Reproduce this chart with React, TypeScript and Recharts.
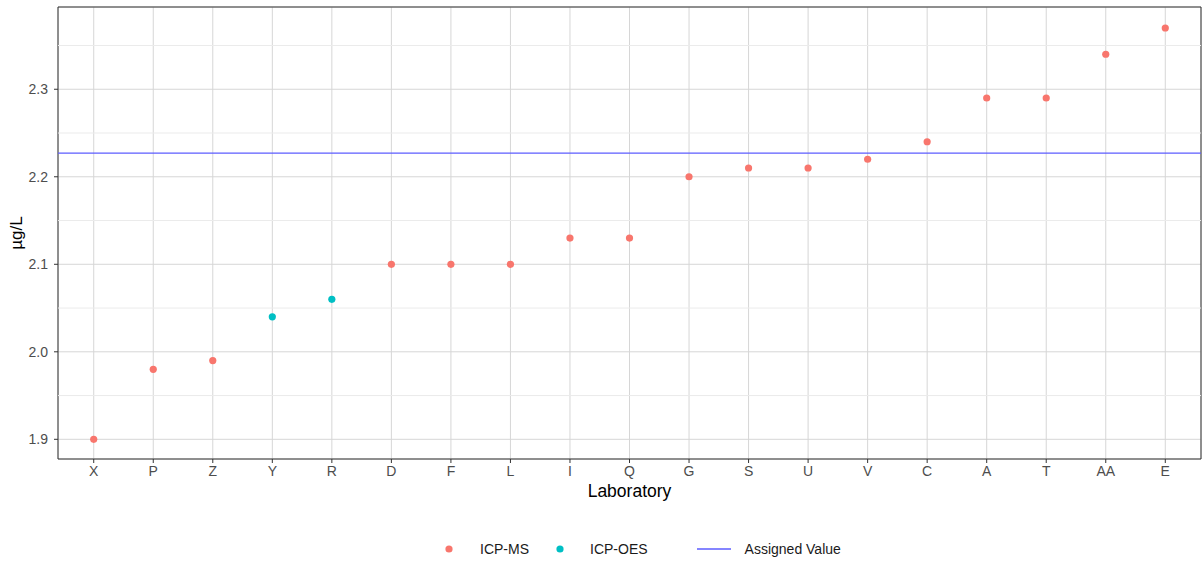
import React from 'react';
import {
  ScatterChart, Scatter, XAxis, YAxis, CartesianGrid, ReferenceLine, ReferenceArea,
} from 'recharts';

// laboratories in plotted order (sorted by result)
const labs = ['X', 'P', 'Z', 'Y', 'R', 'D', 'F', 'L', 'I', 'Q', 'G', 'S', 'U', 'V', 'C', 'A', 'T', 'AA', 'E'];
const results = [1.90, 1.98, 1.99, 2.04, 2.06, 2.10, 2.10, 2.10, 2.13, 2.13, 2.20, 2.21, 2.21, 2.22, 2.24, 2.29, 2.29, 2.34, 2.37];
const methods = ['ICP-MS', 'ICP-MS', 'ICP-MS', 'ICP-OES', 'ICP-OES', 'ICP-MS', 'ICP-MS', 'ICP-MS', 'ICP-MS', 'ICP-MS',
  'ICP-MS', 'ICP-MS', 'ICP-MS', 'ICP-MS', 'ICP-MS', 'ICP-MS', 'ICP-MS', 'ICP-MS', 'ICP-MS'];
const assignedValue = 2.227;

const yTicks = [1.9, 2.0, 2.1, 2.2, 2.3];
const yMinor = [1.95, 2.05, 2.15, 2.25, 2.35];
const yDomain = [1.8775, 2.394];
const xDomain = [-0.6, labs.length - 1 + 0.6];

const COLORS: Record<string, string> = { 'ICP-MS': '#F8766D', 'ICP-OES': '#00BFC4' };
const LINE_COLOR = '#5c5cff';
const FONT = '"Liberation Sans", Arial, sans-serif';

const points = labs.map((lab, i) => ({ x: i, y: results[i], lab, method: methods[i] }));
const msData = points.filter(p => p.method === 'ICP-MS');
const oesData = points.filter(p => p.method === 'ICP-OES');

const Dot = (props: any) => {
  const { cx, cy, fill } = props;
  if (cx == null || cy == null) return null;
  return <circle cx={cx} cy={cy} r={3.6} fill={fill} />;
};

const App: React.FC = () => {
  return (
    <div style={{ position: 'absolute', left: 0, top: 0, width: 1202, height: 562, background: '#fff', fontFamily: FONT }}>
      <ScatterChart width={1202} height={562} margin={{ top: 7, right: 1, bottom: 0, left: 0 }}>
        {/* minor horizontal grid */}
        {yMinor.map(v => (
          <ReferenceLine key={v} y={v} stroke="#ebebeb" strokeWidth={1} ifOverflow="hidden" />
        ))}
        <CartesianGrid stroke="#d6d6d6" strokeWidth={1} />
        <XAxis
          type="number"
          dataKey="x"
          domain={xDomain}
          ticks={labs.map((_, i) => i)}
          tickFormatter={(i: number) => labs[i] ?? ''}
          interval={0}
          allowDataOverflow
          axisLine={false}
          tickLine={{ stroke: '#333333' }}
          tickSize={4}
          tickMargin={3}
          height={103}
          tick={{ fill: '#4d4d4d', fontSize: 14, fontFamily: FONT }}
          label={{ value: 'Laboratory', position: 'insideTop', offset: 26, fill: '#000', fontSize: 17.5, fontFamily: FONT }}
        />
        <YAxis
          type="number"
          dataKey="y"
          domain={yDomain}
          ticks={yTicks}
          tickFormatter={(v: number) => v.toFixed(1)}
          allowDataOverflow
          axisLine={false}
          tickLine={{ stroke: '#333333' }}
          tickSize={4}
          tickMargin={6}
          width={58}
          tick={{ fill: '#4d4d4d', fontSize: 14, fontFamily: FONT }}
          label={{ value: 'µg/L', angle: -90, position: 'insideLeft', offset: 16, fill: '#000', fontSize: 17, fontFamily: FONT, style: { textAnchor: 'middle' } }}
        />
        <ReferenceLine y={assignedValue} stroke={LINE_COLOR} strokeWidth={1.3} />
        <Scatter name="ICP-MS" data={msData} fill={COLORS['ICP-MS']} shape={<Dot />} isAnimationActive={false} />
        <Scatter name="ICP-OES" data={oesData} fill={COLORS['ICP-OES']} shape={<Dot />} isAnimationActive={false} />
        <ReferenceArea x1={xDomain[0]} x2={xDomain[1]} y1={yDomain[0]} y2={yDomain[1]} fill="none" stroke="#333333" strokeWidth={1} ifOverflow="visible" />
      </ScatterChart>

      {/* legend */}
      <div style={{ position: 'absolute', top: 540, left: 439, height: 18, display: 'flex', alignItems: 'center', fontSize: 14, color: '#1a1a1a' }}>
        <div style={{ display: 'flex', alignItems: 'center', marginRight: 21 }}>
          <svg width={20} height={18}><circle cx={10} cy={9} r={3.6} fill={COLORS['ICP-MS']} /></svg>
          <span style={{ marginLeft: 21 }}>ICP-MS</span>
        </div>
        <div style={{ display: 'flex', alignItems: 'center', marginRight: 49 }}>
          <svg width={20} height={18}><circle cx={10} cy={9} r={3.6} fill={COLORS['ICP-OES']} /></svg>
          <span style={{ marginLeft: 20 }}>ICP-OES</span>
        </div>
        <div style={{ display: 'flex', alignItems: 'center' }}>
          <svg width={34} height={18}><line x1={0} y1={9} x2={34} y2={9} stroke={LINE_COLOR} strokeWidth={1.3} /></svg>
          <span style={{ marginLeft: 14 }}>Assigned Value</span>
        </div>
      </div>
    </div>
  );
};

export default App;
